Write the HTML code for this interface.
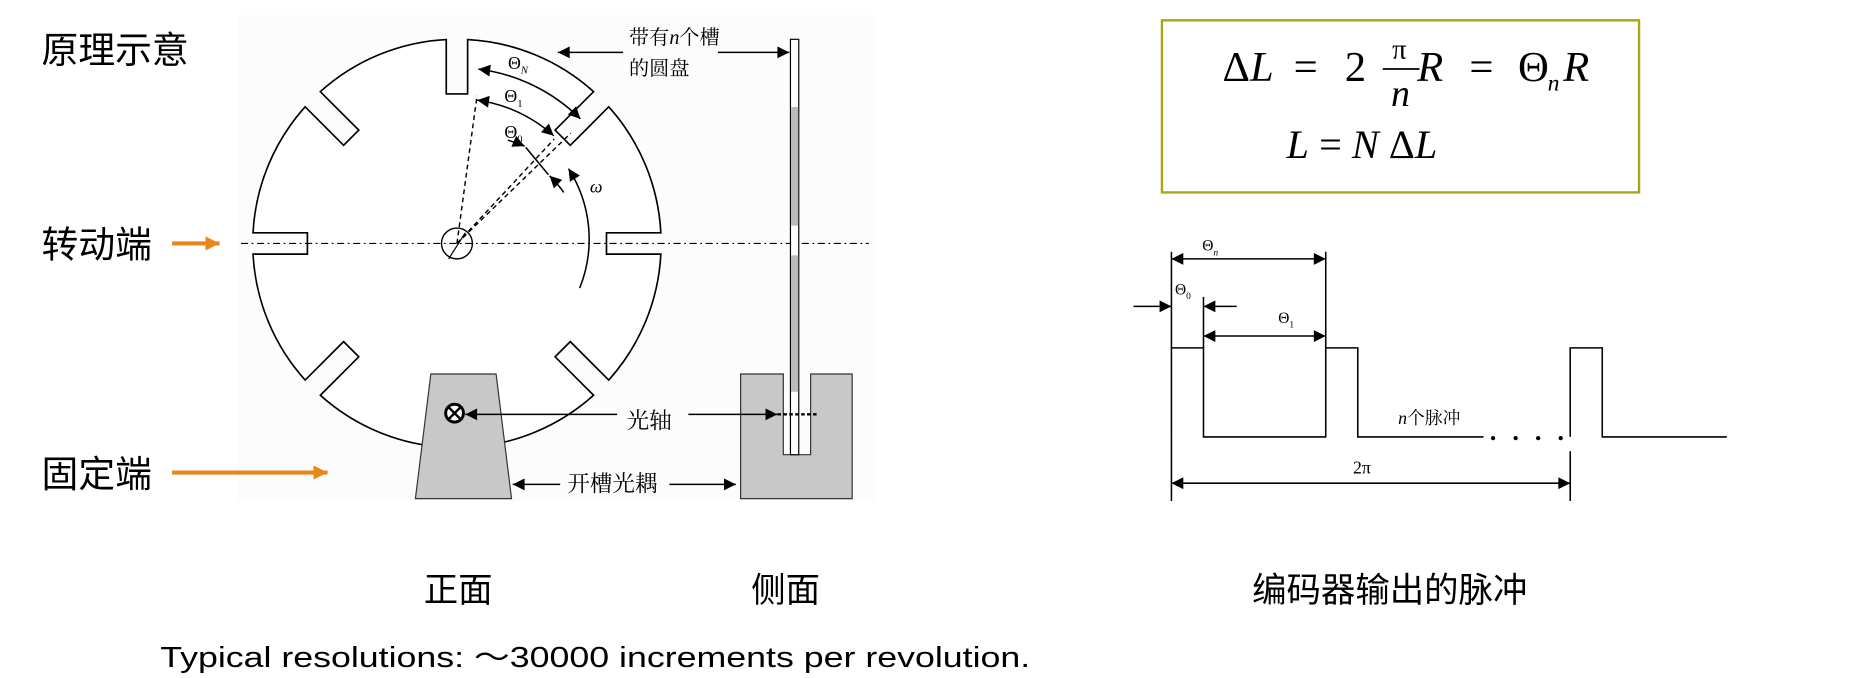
<!DOCTYPE html>
<html><head><meta charset="utf-8"><style>
html,body{margin:0;padding:0;background:#fff;}
svg{display:block;}
</style></head><body>
<svg width="1861" height="678" viewBox="0 0 1568 571" xmlns="http://www.w3.org/2000/svg">
<defs>
<marker id="ahb" viewBox="0 0 10 10" refX="10" refY="5" markerWidth="14" markerHeight="10" orient="auto-start-reverse" markerUnits="userSpaceOnUse"><path d="M0,0 L10,5 L0,10 z" fill="#000"/></marker>
<marker id="oa" viewBox="0 0 10 10" refX="10" refY="5" markerWidth="12" markerHeight="12" orient="auto" markerUnits="userSpaceOnUse"><path d="M0,0 L10,5 L0,10 z" fill="#e8861a"/></marker>
</defs>
<rect x="0" y="0" width="1568" height="571" fill="#fff"/>
<rect x="200" y="12" width="538" height="410" fill="#fcfcfc"/>
<g font-family="'Liberation Sans','Noto Sans CJK SC',sans-serif" fill="#000">
<text x="35" y="53" font-size="31">原理示意</text>
<text x="35" y="217" font-size="31">转动端</text>
<text x="35" y="410" font-size="31">固定端</text>
</g>
<line x1="145" y1="205" x2="185" y2="205" stroke="#e8861a" stroke-width="3.5" marker-end="url(#oa)"/>
<line x1="145" y1="398" x2="276" y2="398" stroke="#e8861a" stroke-width="3.5" marker-end="url(#oa)"/>

<!-- disk -->
<path fill="#fff" stroke="#000" stroke-width="1.4" d="M556.8,196 L511,196 L511,214 L556.8,214 A172,172 0 0 1 512.9,320.1 L480.5,287.7 L467.7,300.5 L500.1,332.9 A172,172 0 0 1 394,376.8 L394,331 L376,331 L376,376.8 A172,172 0 0 1 269.9,332.9 L302.3,300.5 L289.5,287.7 L257.1,320.1 A172,172 0 0 1 213.2,214 L259,214 L259,196 L213.2,196 A172,172 0 0 1 257.1,89.9 L289.5,122.3 L302.3,109.5 L269.9,77.1 A172,172 0 0 1 376,33.2 L376,79 L394,79 L394,33.2 A172,172 0 0 1 500.1,77.1 L467.7,109.5 L480.5,122.3 L512.9,89.9 A172,172 0 0 1 556.8,196 Z"/>
<line x1="203" y1="205" x2="732" y2="205" stroke="#000" stroke-width="1" stroke-dasharray="6,3,1.5,3"/>
<circle cx="385" cy="205" r="13" fill="none" stroke="#000" stroke-width="1.2"/>
<line x1="378" y1="218" x2="392" y2="196" stroke="#000" stroke-width="1"/>
<g stroke="#000" stroke-width="1.2" stroke-dasharray="4,3" fill="none">
<line x1="385" y1="205" x2="402" y2="80"/>
<line x1="385" y1="205" x2="467" y2="117"/>
<line x1="385" y1="205" x2="481" y2="112"/>
</g>
<g stroke="#000" stroke-width="1.3" fill="none">
<path d="M403,58.1 A148,148 0 0 1 489,100" marker-start="url(#ahb)" marker-end="url(#ahb)"/>
<path d="M402,84.2 A122,122 0 0 1 466.6,114.3" marker-start="url(#ahb)" marker-end="url(#ahb)"/>
<path d="M428,118 A100,100 0 0 1 442,123" marker-end="url(#ahb)"/>
<path d="M475,162 A100,100 0 0 0 463,148" marker-end="url(#ahb)"/>
<path d="M443,124 L462,147"/>
<path d="M488.4,242.6 A110,110 0 0 0 479,142" marker-end="url(#ahb)"/>
</g>
<g font-family="'Liberation Serif',serif" fill="#000">
<text x="428" y="58" font-size="15">Θ<tspan font-size="9" font-style="italic" dy="4">N</tspan></text>
<text x="425" y="86" font-size="15">Θ<tspan font-size="9" dy="4">1</tspan></text>
<text x="425" y="116" font-size="15">Θ<tspan font-size="9" dy="4">0</tspan></text>
<text x="497" y="162" font-size="15" font-style="italic">ω</text>
</g>
<!-- front coupler -->
<path d="M363,315 L418,315 L431,420 L350,420 Z" fill="#c8c8c8" stroke="#333" stroke-width="1"/>
<circle cx="383" cy="348" r="7.5" fill="#fff" stroke="#000" stroke-width="2.5"/>
<line x1="378" y1="343" x2="388" y2="353" stroke="#000" stroke-width="2"/>
<line x1="388" y1="343" x2="378" y2="353" stroke="#000" stroke-width="2"/>
<!-- side view -->
<path d="M624,315 L660,315 L660,383 L683,383 L683,315 L718,315 L718,420 L624,420 Z" fill="#c8c8c8" stroke="#333" stroke-width="1"/>
<rect x="666" y="33" width="7" height="350" fill="#fff" stroke="#000" stroke-width="1"/>
<rect x="666.5" y="90" width="6" height="100" fill="#bbb"/>
<rect x="666.5" y="215" width="6" height="115" fill="#bbb"/>
<line x1="655" y1="349" x2="688" y2="349" stroke="#000" stroke-width="2" stroke-dasharray="3,2"/>
<!-- labels & arrows -->
<g font-family="'Liberation Sans','Noto Serif CJK SC',serif" fill="#000" font-size="17">
<text x="530" y="37">带有<tspan font-family="'Liberation Serif',serif" font-style="italic">n</tspan>个槽</text>
<text x="530" y="63">的圆盘</text>
<text x="528" y="361" font-size="19">光轴</text>
<text x="478" y="414" font-size="19">开槽光耦</text>
</g>
<g stroke="#000" stroke-width="1.3">
<line x1="525" y1="44" x2="470" y2="44" marker-end="url(#ahb)"/>
<line x1="605" y1="44" x2="665" y2="44" marker-end="url(#ahb)"/>
<line x1="520" y1="349" x2="392" y2="349" marker-end="url(#ahb)"/>
<line x1="580" y1="349" x2="655" y2="349" marker-end="url(#ahb)"/>
<line x1="472" y1="408" x2="432" y2="408" marker-end="url(#ahb)"/>
<line x1="564" y1="408" x2="620" y2="408" marker-end="url(#ahb)"/>
</g>

<!-- formula box -->
<rect x="979" y="17" width="402" height="145" fill="#fff" stroke="#a8a414" stroke-width="2"/>
<g font-family="'Liberation Serif',serif" fill="#000" font-size="36">
<text x="1030" y="68">Δ<tspan font-style="italic">L</tspan></text>
<text x="1090" y="68">=</text>
<text x="1133" y="68">2</text>
<text x="1179" y="49" font-size="24" text-anchor="middle">π</text>
<line x1="1165" y1="58" x2="1196" y2="58" stroke="#000" stroke-width="1.5"/>
<text x="1180" y="89" font-size="32" font-style="italic" text-anchor="middle">n</text>
<text x="1194" y="68" font-style="italic">R</text>
<text x="1238" y="68">=</text>
<text x="1279" y="68">Θ</text>
<text x="1304" y="76" font-size="20" font-style="italic">n</text>
<text x="1317" y="68" font-style="italic">R</text>
<text x="1084" y="133" font-size="34"><tspan font-style="italic">L</tspan> = <tspan font-style="italic">N</tspan>  Δ<tspan font-style="italic">L</tspan></text>
</g>

<!-- pulse diagram -->
<g stroke="#000" stroke-width="1.3" fill="none">
<polyline points="987,368 987,293 1014,293 1014,368 1117,368 1117,293 1144,293 1144,368 1250,368"/>
<polyline points="1323,368 1323,293 1350,293 1350,368 1455,368"/>
<line x1="987" y1="368" x2="987" y2="422"/>
<line x1="987" y1="212" x2="987" y2="293"/>
<line x1="1117" y1="212" x2="1117" y2="293"/>
<line x1="1014" y1="250" x2="1014" y2="293"/>
<line x1="1323" y1="380" x2="1323" y2="422"/>
<line x1="987" y1="218" x2="1117" y2="218" marker-start="url(#ahb)" marker-end="url(#ahb)"/>
<line x1="1014" y1="283" x2="1117" y2="283" marker-start="url(#ahb)" marker-end="url(#ahb)"/>
<line x1="987" y1="407" x2="1323" y2="407" marker-start="url(#ahb)" marker-end="url(#ahb)"/>
<line x1="955" y1="258" x2="987" y2="258" marker-end="url(#ahb)"/>
<line x1="1042" y1="258" x2="1014" y2="258" marker-end="url(#ahb)"/>
</g>
<g fill="#000"><circle cx="1258" cy="369" r="1.8"/><circle cx="1277" cy="369" r="1.8"/><circle cx="1296" cy="369" r="1.8"/><circle cx="1315" cy="369" r="1.8"/></g>
<g font-family="'Liberation Serif','Noto Serif CJK SC',serif" fill="#000">
<text x="1013" y="211" font-size="13">Θ<tspan font-size="8" font-style="italic" dy="4">n</tspan></text>
<text x="990" y="248" font-size="13">Θ<tspan font-size="8" dy="4">0</tspan></text>
<text x="1077" y="272" font-size="13">Θ<tspan font-size="8" dy="4">1</tspan></text>
<text x="1178" y="357" font-size="15"><tspan font-style="italic">n</tspan>个脉冲</text>
<text x="1140" y="399" font-size="15">2π</text>
</g>

<!-- bottom labels -->
<g font-family="'Liberation Sans','Noto Sans CJK SC',sans-serif" fill="#000" font-size="29">
<text x="357" y="507">正面</text>
<text x="633" y="507">侧面</text>
<text x="1055" y="507">编码器输出的脉冲</text>
</g>
<text x="135" y="562" font-family="'Liberation Sans','Noto Sans CJK SC',sans-serif" font-size="24" fill="#000" textLength="733" lengthAdjust="spacingAndGlyphs">Typical resolutions: ～30000 increments per revolution.</text>
</svg>
</body></html>
